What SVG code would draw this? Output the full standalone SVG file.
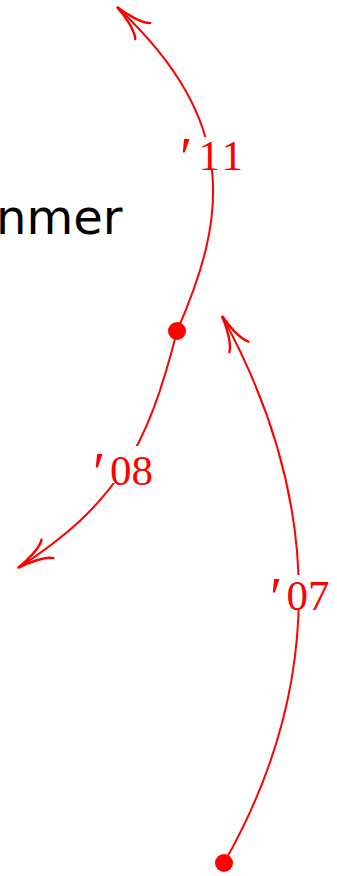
<svg xmlns="http://www.w3.org/2000/svg" width="337" height="876" viewBox="0 0 337 876">
<style>
.edge{fill:none;stroke:#ff0000;stroke-width:2;marker-end:url(#to)}
.dot{fill:#ff0000}
.lbl{font-family:"Liberation Serif","DejaVu Serif",serif;font-size:43px;fill:#ff0000}
.pr{font-size:56px}
.bg{fill:#ffffff}
.word{font-family:"DejaVu Sans","Liberation Sans",sans-serif;font-size:48px;fill:#000000}
</style>
<defs>
<marker id="to" markerUnits="userSpaceOnUse" orient="auto" refX="0" refY="0" markerWidth="40" markerHeight="30" viewBox="-31 -11 33 22" overflow="visible">
<path d="M-29,-9 C-24,-4 -10,-1 0,0 C-10,1 -24,4 -29,9" fill="none" stroke="#ff0000" stroke-width="2" stroke-linecap="round"/>
</marker>
</defs>
<text class="word" x="-4" y="234">nmer</text>
<g id="connectors">
<path class="edge" d="M177,331 C226.6,217.7 240.6,122.6 117,7"/>
<path class="edge" d="M177,331 C147.5,448.8 115.4,505 18,568"/>
<path class="edge" d="M224,863 C325.3,684.6 323,500.2 222,316"/>
</g>
<g id="label-11">
<rect class="bg" x="180" y="137" width="64" height="33"/>
<text class="lbl" y="170"><tspan class="pr" x="180" dy="7">′</tspan><tspan x="198.5" dy="-7" letter-spacing="3">11</tspan></text>
</g>
<g id="label-08">
<rect class="bg" x="93" y="446" width="62" height="37"/>
<text class="lbl" y="485"><tspan class="pr" x="93" dy="7">′</tspan><tspan x="110" dy="-7">08</tspan></text>
</g>
<g id="label-07">
<rect class="bg" x="271" y="575" width="62" height="33"/>
<text class="lbl" y="610"><tspan class="pr" x="270" dy="7">′</tspan><tspan x="286.5" dy="-7">07</tspan></text>
</g>
<g id="node-mid">
<circle class="dot" cx="177" cy="331" r="9"/>
</g>
<g id="node-start">
<circle class="dot" cx="224" cy="863" r="9"/>
</g>
</svg>
